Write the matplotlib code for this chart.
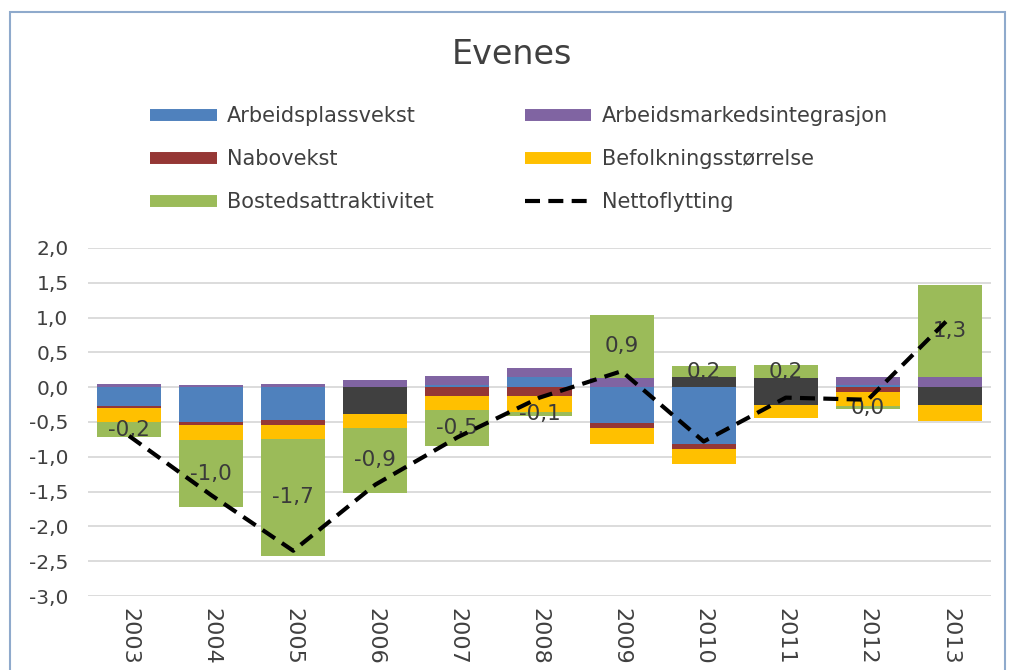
import matplotlib
matplotlib.use("Agg")
import matplotlib.pyplot as plt
from matplotlib.lines import Line2D
from matplotlib.patches import Rectangle
import numpy as np

plt.rcParams['font.family'] = ['DejaVu Sans']

years = ['2003', '2004', '2005', '2006', '2007', '2008', '2009', '2010', '2011', '2012', '2013']

arbeidsplassvekst = [-0.27, -0.50, -0.47, 0.00, 0.03, 0.15, -0.51, -0.81, 0.00, 0.03, 0.00]
arbeidsmarkedsintegrasjon = [0.04, 0.03, 0.04, 0.10, 0.13, 0.12, 0.13, 0.00, 0.00, 0.11, 0.14]
nabovekst = [-0.03, -0.04, -0.07, 0.00, -0.13, -0.13, -0.07, -0.08, 0.00, -0.07, 0.00]
uoppgitt_a = [0.00, 0.00, 0.00, -0.38, 0.00, 0.00, 0.00, 0.14, 0.13, 0.00, -0.26]
uoppgitt_b = [0.00, 0.00, 0.00, 0.00, 0.00, 0.00, 0.00, 0.00, -0.26, 0.00, 0.00]
befolkningsstorrelse = [-0.20, -0.22, -0.20, -0.20, -0.20, -0.22, -0.23, -0.22, -0.18, -0.20, -0.23]
bostedsattraktivitet = [-0.22, -0.96, -1.68, -0.94, -0.52, -0.07, 0.91, 0.17, 0.19, -0.045, 1.33]
nettoflytting = [-0.70, -1.55, -2.35, -1.40, -0.72, -0.15, 0.23, -0.78, -0.15, -0.18, 1.00]

series = [
    ("Arbeidsplassvekst", arbeidsplassvekst, "#4F81BD"),
    ("Arbeidsmarkedsintegrasjon", arbeidsmarkedsintegrasjon, "#8064A2"),
    ("Nabovekst", nabovekst, "#953735"),
    (None, uoppgitt_a, "#404040"),
    (None, uoppgitt_b, "#404040"),
    ("Befolkningsstørrelse", befolkningsstorrelse, "#FFC000"),
    ("Bostedsattraktivitet", bostedsattraktivitet, "#9BBB59"),
]

W, H = 1009, 670
fig = plt.figure(figsize=(W / 100, H / 100), dpi=100)
fig.patch.set_facecolor('white')

# chart border
fig.patches.append(Rectangle((10 / W, -0.05), (1005 - 10) / W, 1.05 - 12 / H,
                             transform=fig.transFigure, fill=False,
                             edgecolor='#8FAACC', linewidth=1.5, zorder=0))

ax = fig.add_axes([88 / W, 1 - 596 / H, (991 - 88) / W, (596 - 248) / H])
x = np.arange(len(years))
width = 0.78

pos_base = np.zeros(len(years))
neg_base = np.zeros(len(years))
green_centers = None
for name, vals, col in series:
    v = np.array(vals, dtype=float)
    bottoms = np.where(v >= 0, pos_base, neg_base)
    ax.bar(x, v, width, bottom=bottoms, color=col, zorder=2, linewidth=0)
    if name == "Bostedsattraktivitet":
        green_centers = bottoms + v / 2
    pos_base = pos_base + np.where(v > 0, v, 0)
    neg_base = neg_base + np.where(v < 0, v, 0)

def fmt(v):
    s = f"{v:.1f}"
    if s == "-0.0":
        s = "0.0"
    return s.replace('.', ',')

for xi, yc, v in zip(x, green_centers, bostedsattraktivitet):
    ax.text(xi, yc, fmt(v), ha='center', va='center', fontsize=15.5,
            color='#3A3A3A', zorder=3)

ax.plot(x, nettoflytting, color='black', linewidth=3.0, dashes=(3.6, 2.0),
        zorder=4, dash_capstyle='butt')

ax.set_ylim(-3, 2)
ax.set_xlim(-0.5, len(years) - 0.5)
ax.set_yticks(np.arange(-3, 2.01, 0.5))
ax.set_yticklabels([f"{t:.1f}".replace('.', ',') for t in np.arange(-3, 2.01, 0.5)],
                   fontsize=14.5, color='#404040')
ax.set_xticks(x)
ax.set_xticklabels(years, rotation=270, fontsize=16, color='#404040')
ax.tick_params(axis='both', length=0)
ax.tick_params(axis='y', pad=14)
ax.tick_params(axis='x', pad=9)
ax.grid(axis='y', color='#D9D9D9', linewidth=1.3, zorder=0)
ax.set_axisbelow(True)
for s in ax.spines.values():
    s.set_visible(False)

fig.text(512 / W, 1 - 55 / H, "Evenes", ha='center', va='center',
         fontsize=24, color='#404040')

def bar_handle(c):
    return Line2D([], [], color=c, linewidth=8.6, solid_capstyle='butt')

handles = [bar_handle("#4F81BD"), bar_handle("#953735"), bar_handle("#9BBB59"),
           bar_handle("#8064A2"), bar_handle("#FFC000"),
           Line2D([], [], color='black', linewidth=3.0, dashes=(3.6, 2.0))]
labels = ["Arbeidsplassvekst", "Nabovekst", "Bostedsattraktivitet",
          "Arbeidsmarkedsintegrasjon", "Befolkningsstørrelse", "Nettoflytting"]
fig.legend(handles, labels, ncol=2, loc='upper left',
           bbox_to_anchor=(150 / W, 1 - 106 / H), frameon=False,
           fontsize=15, handlelength=3.2, handletextpad=0.5,
           columnspacing=4.36, labelspacing=1.11, borderpad=0, borderaxespad=0,
           labelcolor='#404040')

fig.savefig("out.png", dpi=100)
